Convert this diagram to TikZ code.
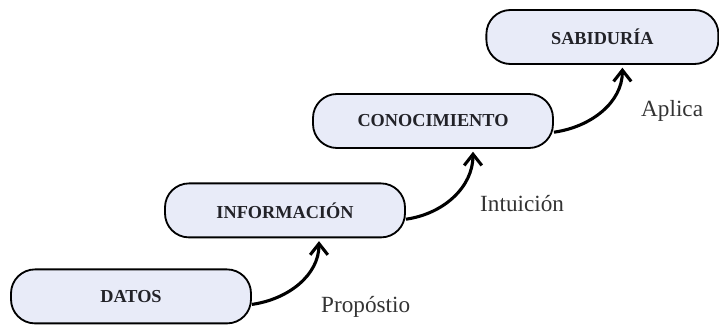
\documentclass[tikz,border=0pt]{standalone}
\usepackage{fontspec}
\setmainfont{Liberation Serif}
\usetikzlibrary{arrows.meta}
\definecolor{boxfill}{RGB}{232,235,248}
\definecolor{boxtext}{RGB}{34,34,40}

\begin{document}
\begin{tikzpicture}[
            > = {Straight Barb[length=2.8mm, width=4.4mm]}, % arrow head style
            shorten > = 2pt, % don't touch arrow head to node
            line width = 2.2pt % line style
        ]

        \tikzstyle{stage}=[
            draw = black,
            line width = 1.3pt,
            fill = boxfill,
            rounded corners = 0.6cm,
            minimum width = 6cm,
            minimum height = 1.35cm,
            text = boxtext,
            font = \fontsize{13}{15}\selectfont\bfseries
        ]
        \tikzstyle{why}=[
            anchor = base west,
            text = black!80,
            font = \fontsize{16.5}{19}\selectfont
        ]
        \useasboundingbox (0,0) rectangle (17.975,8.1);

        \node[stage] (s1) at (3.275,0.69) {DATOS};
        \node[stage] (s2) at (7.125,2.84) {INFORMACIÓN};
        \node[stage] (s3) at (10.825,5.075) {CONOCIMIENTO};
        \node[stage, minimum width = 5.8cm] (s4) at (15.06,7.175) {SABIDURÍA};

        \node[why] (w1) at (7.875,0.3) {Propóstio};
        \node[why] (w2) at (11.85,2.825) {Intuición};
        \node[why] (w3) at (15.875,5.2) {Aplica};

        \draw[->] ([yshift=-0.2cm]s1.east) to[out=8, in=-90] ([xshift=0.85cm]s2.south);
        \draw[->] ([yshift=-0.22cm]s2.east) to[out=8, in=-90] ([xshift=1cm]s3.south);
        \draw[->] ([yshift=-0.28cm]s3.east) to[out=8, in=-90] ([xshift=0.5cm]s4.south);
    \end{tikzpicture}
\end{document}
